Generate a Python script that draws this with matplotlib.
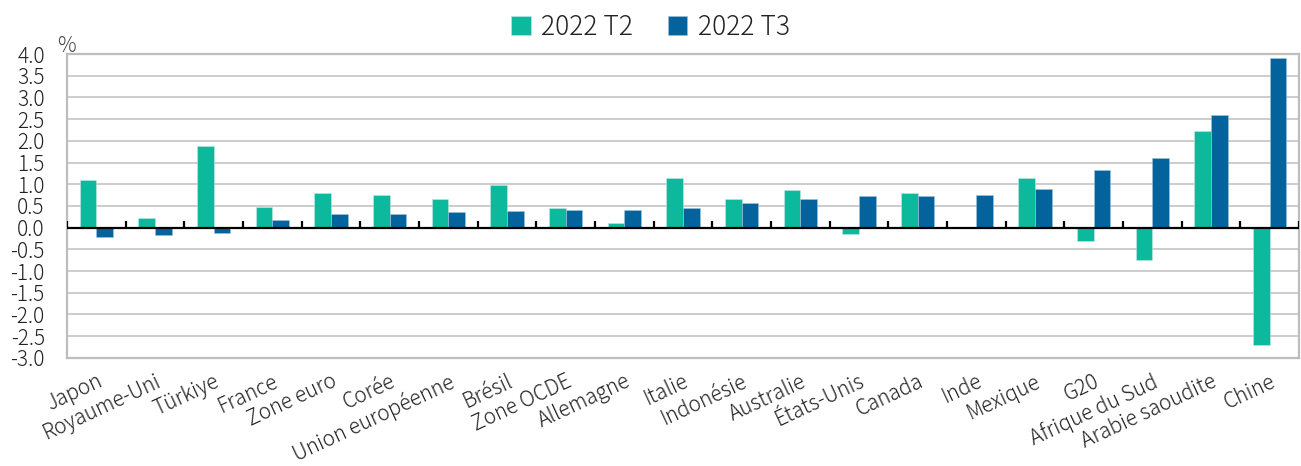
"""Quarterly GDP growth, G20 and OECD economies: 2022 T2 vs 2022 T3."""

import matplotlib
import matplotlib.pyplot as plt
import numpy as np

matplotlib.use("Agg")
plt.rcParams["font.family"] = ["Noto Sans CJK JP", "DejaVu Sans"]
plt.rcParams["font.weight"] = "light"
plt.rcParams["axes.unicode_minus"] = False

countries = [
    "Japon", "Royaume-Uni", "Türkiye", "France", "Zone euro", "Corée",
    "Union européenne", "Brésil", "Zone OCDE", "Allemagne", "Italie",
    "Indonésie", "Australie", "États-Unis", "Canada", "Inde", "Mexique",
    "G20", "Afrique du Sud", "Arabie saoudite", "Chine",
]
t2_values = [1.1, 0.22, 1.88, 0.48, 0.79, 0.75, 0.66, 0.98, 0.45, 0.1, 1.14,
             0.66, 0.87, -0.14, 0.79, 0.01, 1.15, -0.3, -0.74, 2.23, -2.7]
t3_values = [-0.21, -0.16, -0.12, 0.17, 0.32, 0.32, 0.35, 0.39, 0.4, 0.4, 0.46,
             0.56, 0.65, 0.72, 0.73, 0.76, 0.88, 1.33, 1.61, 2.6, 3.9]
series_names = ["2022 T2", "2022 T3"]
y_ticks = np.arange(-3.0, 4.01, 0.5)

COLOR_T2 = "#0cb99d"
COLOR_T3 = "#04639c"
GRID = "#c4c4c4"
TEXT = "#222222"


def main() -> None:
    fig = plt.figure(figsize=(13.01, 4.66), dpi=100)
    ax = fig.add_axes([0.0515, 0.232, 0.947, 0.652])

    n = len(countries)
    x = np.arange(n)
    width = 0.286
    ax.bar(x - width / 2, t2_values, width, color=COLOR_T2, edgecolor="#bfe9e0",
           linewidth=0.4, label=series_names[0], zorder=3)
    ax.bar(x + width / 2, t3_values, width, color=COLOR_T3, edgecolor="#9fc3da",
           linewidth=0.4, label=series_names[1], zorder=3)

    ax.set_xlim(-0.5, n - 0.5)
    ax.set_ylim(-3.0, 4.0)
    ax.set_yticks(y_ticks)
    ax.set_yticklabels([f"{v:.1f}" for v in y_ticks], fontsize=15, color=TEXT)
    ax.yaxis.grid(True, color=GRID, linewidth=1.2, zorder=0)
    ax.tick_params(axis="y", length=0, pad=16)

    ax.set_xticks(x)
    ax.set_xticklabels(countries, rotation=25, ha="right", rotation_mode="anchor",
                       fontsize=15, color=TEXT)
    ax.tick_params(axis="x", length=0, pad=9)

    # zero line with category separators
    ax.axhline(0, color="black", linewidth=1.6, zorder=4)
    ax.vlines(np.arange(-0.5, n), 0, 0.16, color="black", linewidth=1.6, zorder=4)

    for side in ["left", "right", "top", "bottom"]:
        ax.spines[side].set_color("#bdbdbd")
        ax.spines[side].set_linewidth(1.6)

    fig.text(0.044, 0.888, "%", fontsize=15, color="#444444", ha="left", va="baseline")

    fig.legend(loc="upper center", bbox_to_anchor=(0.5, 1.024), ncol=2, frameon=False,
               fontsize=19, handlelength=0.75, handleheight=0.75, handletextpad=0.4,
               columnspacing=1.3, labelcolor=TEXT)

    fig.savefig("out.png", dpi=100)
    plt.close(fig)


if __name__ == "__main__":
    main()
